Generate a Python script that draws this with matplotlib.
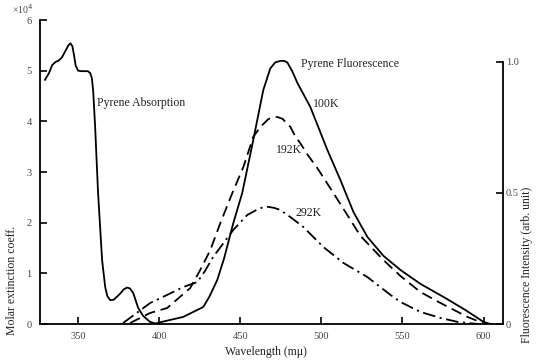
import matplotlib
matplotlib.use("Agg")
import matplotlib.pyplot as plt

plt.rcParams['font.family'] = ['Liberation Serif', 'DejaVu Serif']

# --- absorption (molar extinction coeff., x10^4) ---
abs_nm = [329.6, 332.0, 334.0, 336.0, 338.0, 340.0, 342.0, 344.0, 345.3, 346.5,
          347.5, 348.5, 350.0, 352.0, 356.0, 357.5, 358.5, 359.3, 360.5, 362.3,
          364.8, 366.7, 368.0, 369.8, 372.0, 376.0, 378.0, 380.2, 382.0, 384.0,
          387.0, 390.1, 394.4, 398.8]
abs_val = [4.82, 4.95, 5.11, 5.17, 5.20, 5.26, 5.38, 5.50, 5.54, 5.48,
           5.30, 5.10, 5.00, 4.99, 4.99, 4.95, 4.85, 4.60, 3.89, 2.59,
           1.26, 0.73, 0.55, 0.47, 0.48, 0.60, 0.68, 0.72, 0.70, 0.61,
           0.32, 0.16, 0.04, 0.0]

# --- fluorescence (arb. unit) ---
f100_nm = [398.8, 414.8, 427.2, 431.0, 435.8, 440.0, 445.7, 451.2, 458.0, 464.2,
           468.5, 471.5, 474.7, 477.0, 479.0, 482.0, 485.2, 493.2, 503.7, 511.7,
           519.8, 528.4, 538.3, 548.8, 561.1, 576.5, 588.9, 600.0, 604.3]
f100_val = [0.004, 0.027, 0.065, 0.105, 0.168, 0.250, 0.385, 0.500, 0.702, 0.893,
            0.975, 0.998, 1.004, 1.004, 0.998, 0.965, 0.920, 0.828, 0.664, 0.550,
            0.427, 0.332, 0.260, 0.206, 0.153, 0.099, 0.053, 0.008, 0.0]

f192_nm = [382.1, 394.4, 404.9, 419.1, 425.3, 431.5, 437.7, 445.1, 451.9, 458.0,
           462.4, 467.3, 470.0, 472.8, 476.0, 480.9, 484.0, 487.0, 491.4, 497.5,
           507.4, 516.0, 524.1, 538.3, 548.8, 561.1, 573.5, 590.1, 599.4]
f192_val = [0.004, 0.042, 0.061, 0.137, 0.206, 0.282, 0.385, 0.500, 0.599, 0.714,
            0.752, 0.782, 0.788, 0.790, 0.783, 0.752, 0.715, 0.690, 0.647, 0.595,
            0.500, 0.416, 0.336, 0.244, 0.183, 0.122, 0.080, 0.027, 0.004]

f292_nm = [377.8, 394.4, 404.9, 414.8, 423.5, 428.0, 433.3, 445.7, 454.3, 461.1,
           464.0, 467.3, 471.0, 474.7, 480.9, 488.9, 501.2, 513.6, 528.4, 542.6,
           548.8, 561.1, 573.5, 584.0, 596.3]
f292_val = [0.004, 0.080, 0.111, 0.141, 0.160, 0.200, 0.256, 0.359, 0.416, 0.439,
            0.445, 0.447, 0.443, 0.435, 0.408, 0.370, 0.294, 0.233, 0.179, 0.111,
            0.084, 0.046, 0.023, 0.008, 0.0]

x_ticks = [350, 400, 450, 500, 550, 600]
left_ticks = [0, 1, 2, 3, 4, 5, 6]
right_ticks = [0, 0.5, 1.0]
right_labels = ["0", "0.5", "1.0"]

tick_col = "#444444"
txt_col = "#222222"

fig = plt.figure(figsize=(5.36, 3.62), dpi=100)
ax = fig.add_axes([40 / 536, 38 / 362, 463 / 536, 304 / 362])
ax2 = ax.twinx()

lw = 1.3
ax.plot(abs_nm, abs_val, color="black", lw=lw, solid_joinstyle="round")
ax2.plot(f100_nm, f100_val, color="black", lw=lw, solid_joinstyle="round")
ax2.plot(f192_nm, f192_val, color="black", lw=lw, linestyle=(0, (6, 3.2)))
ax2.plot(f292_nm, f292_val, color="black", lw=lw, linestyle=(0, (7, 2.5, 1.2, 2.5)))

ax.set_xlim(326.5, 612)
ax.set_ylim(0, 6)
ax2.set_ylim(0, 1.16)

for a in (ax, ax2):
    a.spines["top"].set_visible(False)
ax.spines["right"].set_visible(False)
ax2.spines["left"].set_visible(False)
ax2.spines["bottom"].set_visible(False)
ax2.spines["right"].set_bounds(0, 1.0)
for s in ("left", "bottom"):
    ax.spines[s].set_linewidth(1.3)
ax2.spines["right"].set_linewidth(1.3)

ax.set_xticks(x_ticks)
ax.set_yticks(left_ticks)
ax2.set_yticks(right_ticks)
ax2.set_yticklabels(right_labels)

ax.tick_params(axis="both", direction="in", length=5, width=1.2,
               labelsize=7.5, labelcolor=tick_col)
ax.tick_params(axis="y", pad=6)
ax.tick_params(axis="x", pad=6)
ax2.tick_params(axis="y", direction="in", length=5, width=1.2,
                labelsize=7.5, labelcolor=tick_col, pad=2)

# axis labels
fig.text(12 / 536, 1 - 280 / 362, "Molar extinction coeff.", rotation=90,
         ha="center", va="center", fontsize=8.5, color=txt_col)
fig.text(527 / 536, 1 - 265 / 362, "Fluorescence Intensity (arb. unit)", rotation=90,
         ha="center", va="center", fontsize=8.5, color=txt_col)
fig.text(266 / 536, 1 - 352 / 362, "Wavelength (m\u03bc)", ha="center", va="center",
         fontsize=8.5, color=txt_col)
fig.text(12 / 536, 1 - 9 / 362, "\u00d710$^4$", ha="left", va="center",
         fontsize=7, color=tick_col)

# annotations
fig.text(97 / 536, 1 - 103 / 362, "Pyrene Absorption", ha="left", va="center",
         fontsize=8.5, color=txt_col)
fig.text(301 / 536, 1 - 64 / 362, "Pyrene Fluorescence", ha="left", va="center",
         fontsize=8.5, color=txt_col)
fig.text(313 / 536, 1 - 104 / 362, "100K", ha="left", va="center",
         fontsize=8.5, color=txt_col)
fig.text(276 / 536, 1 - 150 / 362, "192K", ha="left", va="center",
         fontsize=8.5, color=txt_col)
fig.text(295 / 536, 1 - 213 / 362, "292K", ha="left", va="center",
         fontsize=8.5, color=txt_col)

fig.savefig("out.png", dpi=100)
